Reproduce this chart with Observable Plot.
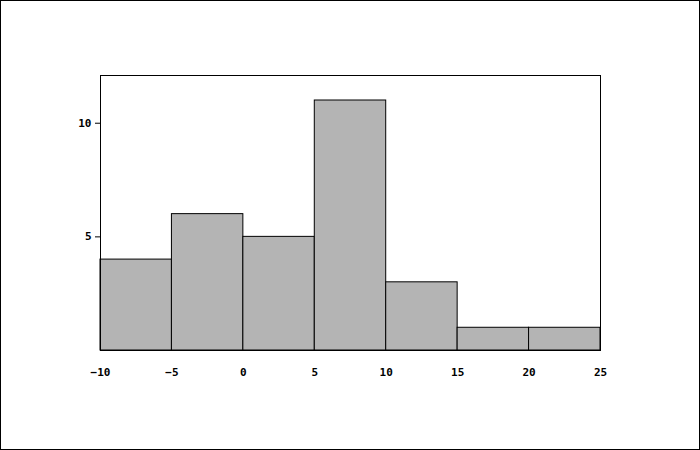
<!DOCTYPE html>
<html>
<head>
<meta charset="utf-8">
<script src="https://cdn.jsdelivr.net/npm/d3@7"></script>
<script src="https://cdn.jsdelivr.net/npm/@observablehq/plot@0.6"></script>
<style>
  html, body { margin: 0; padding: 0; background: #fff; }
  #wrap { position: relative; width: 700px; height: 450px; }
  #border { position: absolute; left: 0; top: 0; width: 700px; height: 450px; box-sizing: border-box; border: 1px solid #000; pointer-events: none; }
</style>
</head>
<body>
<div id="wrap"><div id="border"></div></div>
<script>
const binStarts = [-10, -5, 0, 5, 10, 15, 20];
const binEnds = [-5, 0, 5, 10, 15, 20, 25];
const counts = [4, 6, 5, 11, 3, 1, 1];
const xTicks = [-10, -5, 0, 5, 10, 15, 20, 25];
const yTicks = [5, 10];

const bins = binStarts.map((s, i) => ({x1: s, x2: binEnds[i], y: counts[i]}));

const chart = Plot.plot({
  width: 700,
  height: 450,
  marginLeft: 100,
  marginRight: 100,
  marginTop: 75,
  marginBottom: 100,
  style: {fontFamily: "DejaVu Sans Mono", fontWeight: "bold", fontSize: "11px", color: "#000", background: "#fff"},
  x: {domain: [-10, 25], ticks: xTicks, tickSize: 0, tickPadding: 18, label: null},
  y: {domain: [0, 12.1], ticks: yTicks, tickSize: 5, tickPadding: 4, label: null},
  marks: [
    Plot.rectY(bins, {x1: "x1", x2: "x2", y: "y", fill: "#b4b4b4", stroke: "#000", strokeWidth: 1}),
    Plot.frame({stroke: "#000", strokeWidth: 1}),
    Plot.axisX({ticks: xTicks, tickSize: 0, tickPadding: 18, fontWeight: "bold"}),
    Plot.axisY({ticks: yTicks, tickSize: 5, tickPadding: 4, fontWeight: "bold", stroke: "#000"})
  ]
});
document.getElementById("wrap").prepend(chart);
</script>
</body>
</html>
